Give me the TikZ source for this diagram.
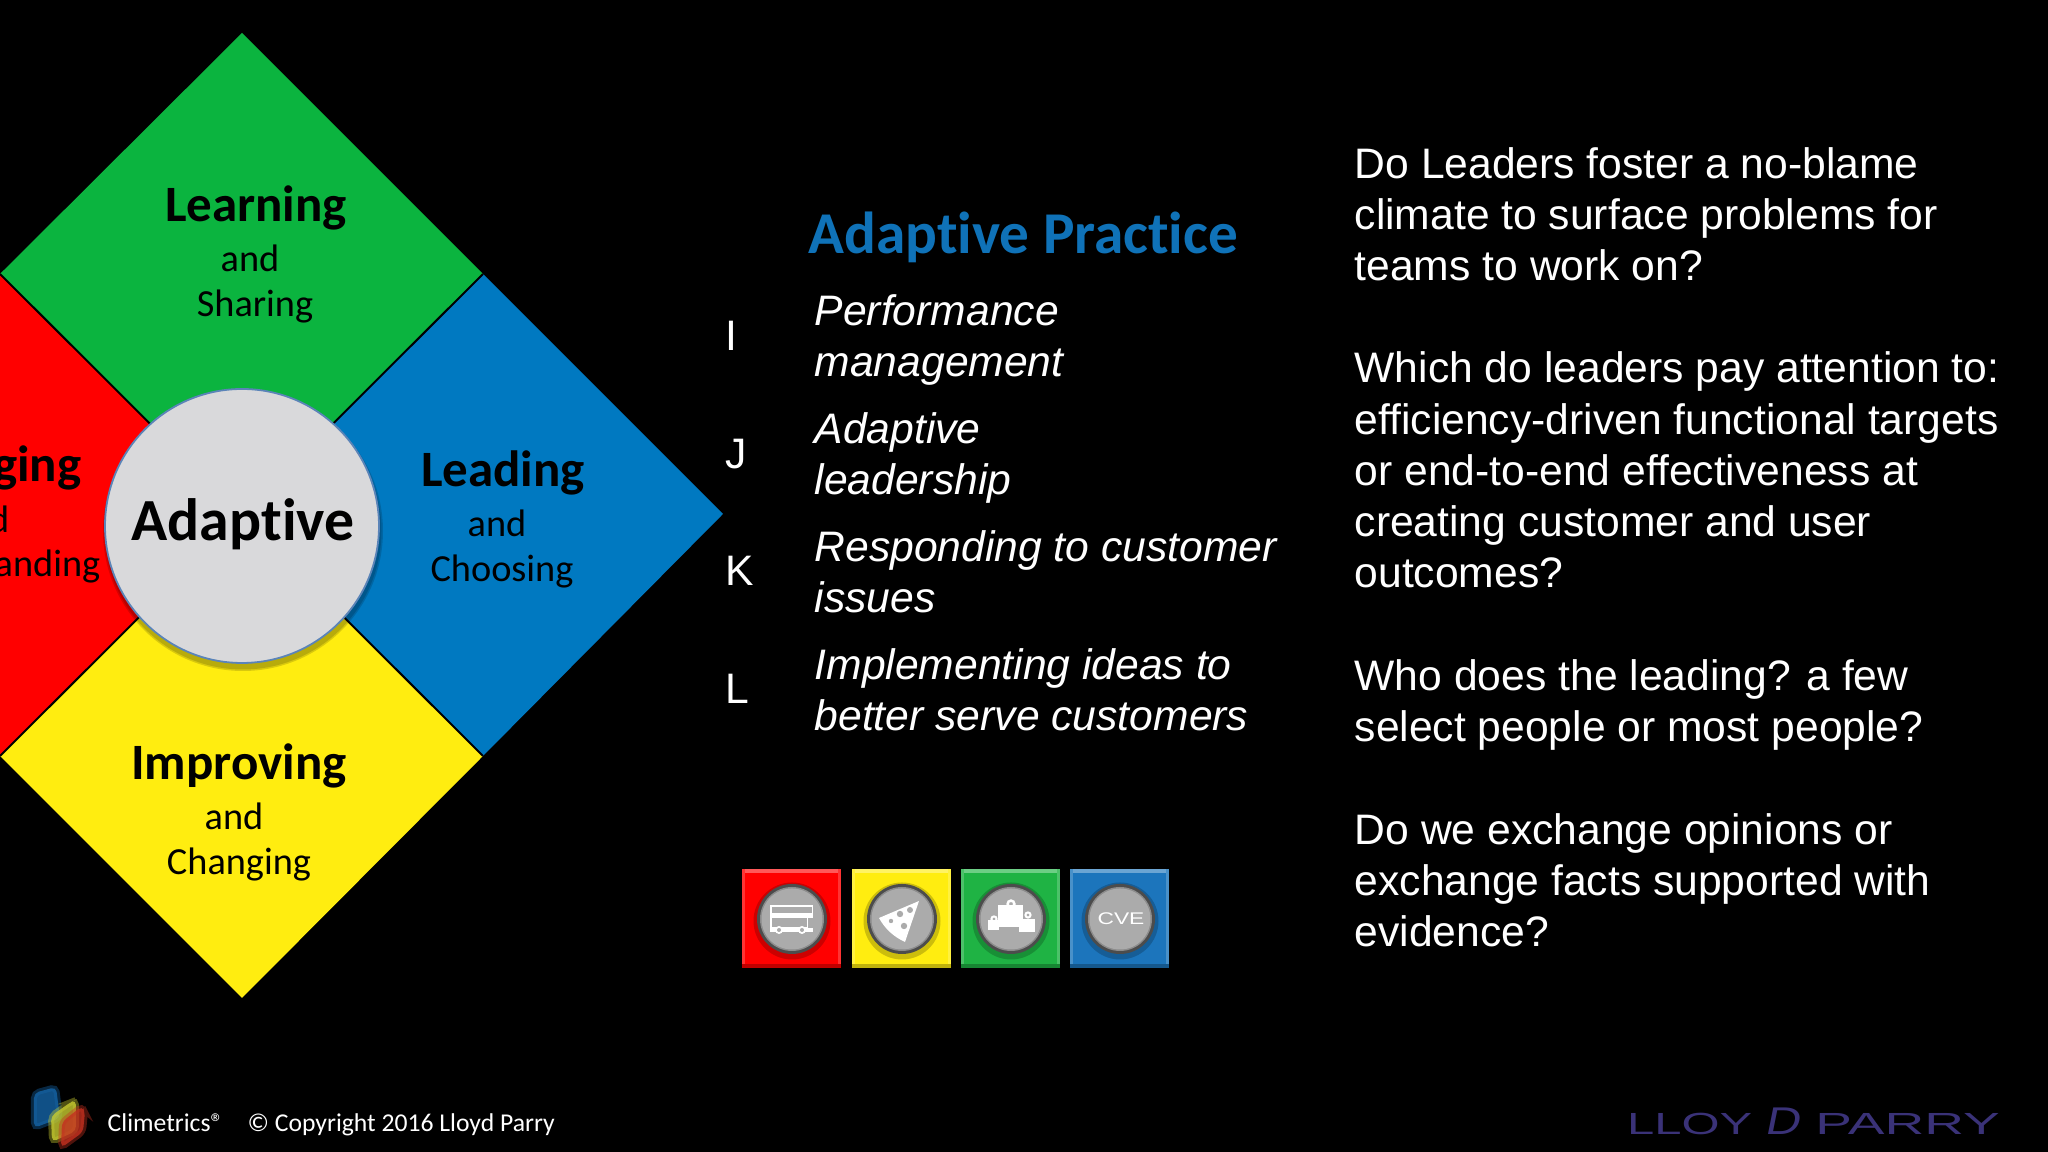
\documentclass[tikz,border=0pt]{standalone}
\usepackage{fontspec}
\setmainfont{Liberation Sans}
\newfontfamily\carlito[Ligatures=NoCommon]{Carlito}
\usetikzlibrary{calc}
\definecolor{leafgreen}{HTML}{0BB43F}
\definecolor{seablue}{HTML}{0079C1}
\definecolor{sunyellow}{HTML}{FFED10}
\definecolor{hubgrey}{HTML}{D9D9DB}
\definecolor{hubline}{HTML}{5B84B8}
\definecolor{headblue}{HTML}{0F72B8}
\definecolor{tilegreen}{HTML}{1FB344}
\definecolor{tileblue}{HTML}{1C75BC}
\definecolor{markpurple}{HTML}{3A3278}
\definecolor{cubeblue}{HTML}{1565A8}
\definecolor{cubeyellow}{HTML}{C8CC30}
\definecolor{cubered}{HTML}{C43020}
\tikzset{
	headtext/.style={font=\carlito\bfseries\fontsize{14.5}{16}\selectfont, text=black, inner sep=0pt},
	subtext/.style={font=\carlito\fontsize{10.9}{12}\selectfont, text=black, inner sep=0pt},
	bodytext/.style={font=\fontsize{12.13}{14.56}\selectfont, text=white, align=left, anchor=west, inner sep=0pt},
	slanttext/.style={bodytext, font=\itshape\fontsize{12.13}{14.56}\selectfont},
	marktext/.style={font=\fontsize{8.7}{10}\selectfont, text=markpurple, inner sep=0pt, anchor=base west},
	foottext/.style={font=\carlito\fontsize{7.3}{8}\selectfont, text=white, anchor=base west, inner sep=0pt},
	cubeside/.style={line width=0.6mm, draw=#1, draw opacity=0.4, fill=#1, fill opacity=0.8, rounded corners=0.5mm},
}
\begin{document}
\begin{tikzpicture}
	%%%%% BACKGROUND %%%%%
	\useasboundingbox (0, 0) rectangle (20.48, 11.52);
	\clip (0, 0) rectangle (20.48, 11.52);
	\fill[black] (0, 0) rectangle (20.48, 11.52);

	%%%%% DIAMOND %%%%%
	\fill[leafgreen] (2.42, 11.19) -- (4.83, 8.78) -- (2.42, 6.37) -- (0, 8.78) -- cycle;
	\fill[seablue] (4.83, 8.78) -- (7.23, 6.38) -- (4.83, 3.96) -- (2.42, 6.37) -- cycle;
	\fill[sunyellow] (2.42, 6.37) -- (4.83, 3.96) -- (2.42, 1.54) -- (0, 3.96) -- cycle;
	\fill[red] (0, 8.78) -- (2.42, 6.37) -- (0, 3.96) -- cycle;
	\draw[line width=0.2mm] (0, 8.78) -- (4.83, 3.96);
	\draw[line width=0.2mm] (0, 3.96) -- (4.83, 8.78);

	\foreach \r in {1.40, 1.385}
		\fill[black, opacity=0.15] (2.43, 6.21) circle (\r);
	\draw[fill=hubgrey, draw=hubline, line width=0.18mm] (2.42, 6.26) circle (1.37);
	\node[font=\carlito\bfseries\fontsize{17}{18}\selectfont, text=black, inner sep=0pt] (hub) at (2.43, 6.28) {Adaptive};

	\node[headtext] (learning) at (2.56, 9.44) {Learning};
	\node[subtext] (learningand) at (2.50, 8.94) {and};
	\node[subtext] (sharing) at (2.55, 8.45) {Sharing};

	\node[headtext] (leading) at (5.03, 6.79) {Leading};
	\node[subtext] (leadingand) at (4.97, 6.29) {and};
	\node[subtext] (choosing) at (5.02, 5.80) {Choosing};

	\node[headtext] (improving) at (2.39, 3.86) {Improving};
	\node[subtext] (improvingand) at (2.34, 3.36) {and};
	\node[subtext] (changing) at (2.39, 2.87) {Changing};

	\node[headtext, anchor=east] (ging) at (0.82, 6.84) {ging};
	\node[subtext, anchor=east] (gingand) at (0.10, 6.33) {d};
	\node[subtext, anchor=east] (anding) at (1.01, 5.85) {anding};

	%%%%% LISTS %%%%%
	\node[font=\carlito\bfseries\fontsize{16.86}{18}\selectfont, text=headblue, anchor=west, inner sep=0pt] (practice) at (8.08, 9.15) {Adaptive Practice};

	\node[bodytext] (letteri) at (7.25, 8.16) {I};
	\node[bodytext] (letterj) at (7.25, 6.98) {J};
	\node[bodytext] (letterk) at (7.25, 5.81) {K};
	\node[bodytext] (letterl) at (7.25, 4.63) {L};

	\node[slanttext] (performance) at (8.14, 8.12) {Performance\\management};
	\node[slanttext] (leadership) at (8.14, 6.94) {Adaptive\\leadership};
	\node[slanttext] (issues) at (8.14, 5.80) {Responding to customer\\issues};
	\node[slanttext] (ideas) at (8.14, 4.62) {Implementing ideas to\\better serve customers};

	\node[bodytext] (blame) at (13.54, 9.38) {Do Leaders foster a no-blame\\climate to surface problems for\\teams to work on?};
	\node[bodytext] (targets) at (13.54, 6.82) {Which do leaders pay attention to:\\efficiency-driven functional targets\\or end-to-end effectiveness at\\creating customer and user\\outcomes?};
	\node[bodytext] (few) at (13.54, 4.47) {Who does the leading? a few\\select people or most people?};
	\node[bodytext] (facts) at (13.54, 2.72) {Do we exchange opinions or\\exchange facts supported with\\evidence?};

	%%%%% TILES %%%%%
	\foreach \x/\tilecol in {7.42/red, 8.52/sunyellow, 9.61/tilegreen, 10.70/tileblue} {
		\fill[\tilecol] (\x, 1.84) rectangle ++(0.99, 0.99);
		\fill[\tilecol!65!white] (\x, 2.79) rectangle ++(0.99, 0.04);
		\fill[\tilecol!80!white] (\x, 1.84) rectangle ++(0.03, 0.99);
		\fill[\tilecol!80!white] (\x+0.96, 1.84) rectangle ++(0.03, 0.99);
		\fill[\tilecol!75!black] (\x, 1.84) rectangle ++(0.99, 0.04);
	}
	\foreach \x in {7.92, 9.02, 10.11, 11.20} {
		\fill[black, opacity=0.2] (\x, 2.31) circle (0.385);
		\fill[black!70] (\x, 2.33) circle (0.35);
		\fill[black!45] (\x, 2.33) circle (0.32);
		\fill[black!33] (\x, 2.33) circle (0.305);
	}

	% bus
	\begin{scope}[shift={(7.92, 2.33)}, x=0.01cm, y=-0.01cm]
		\fill[white] (-22, -14) rectangle (21, 13);
		\fill[black!33] (-20, -12) rectangle (20, -6);
		\fill[black!33] (-20, -1) rectangle (15, 8);
		\fill[black!33] (16, -1) rectangle (22, 9);
		\fill[white] (-13, 11) circle (4);
		\fill[white] (10, 11) circle (4);
		\fill[black!33] (-13, 11) circle (2);
		\fill[black!33] (10, 11) circle (2);
	\end{scope}

	% slice
	\begin{scope}[shift={(9.02, 2.33)}, x=0.01cm, y=-0.01cm]
		\fill[white] (17, -18) -- (3, 23) .. controls (-8, 18) and (-17, 10) .. (-23, -1) -- cycle;
		\fill[black!33] (-2, -5) circle (3.2);
		\fill[black!33] (8, -9) circle (3);
		\fill[black!33] (2, 7) circle (3.2);
		\fill[black!33] (-11, 2) circle (2.2);
	\end{scope}

	% bags
	\begin{scope}[shift={(10.11, 2.33)}, x=0.01cm, y=-0.01cm]
		\draw[white, line width=0.25mm] (0, -15) circle (3.4);
		\draw[white, line width=0.2mm] (-17, 0) circle (2.6);
		\draw[white, line width=0.2mm] (17, -4) circle (2.6);
		\fill[white] (-13, -14) rectangle (12, 8);
		\fill[white] (-23, 1) rectangle (-12, 11);
		\fill[white] (8, 0) rectangle (24, 13);
	\end{scope}

	\node[font=\fontsize{4.8}{6}\selectfont, text=white, xscale=1.35, inner sep=0pt] (cve) at (11.21, 2.33) {CVE};

	%%%%% FOOTER %%%%%
	\draw[cubeside=cubeblue] (0.34, 0.24) -- (0.34, 0.59) -- (0.56, 0.65) -- (0.60, 0.34) -- cycle;
	\draw[cubeside=cubeyellow] (0.52, 0.10) -- (0.51, 0.36) -- (0.71, 0.50) -- (0.76, 0.52) -- (0.76, 0.21) -- cycle;
	\draw[cubeside=cubered] (0.61, 0.04) -- (0.62, 0.30) -- (0.82, 0.46) -- (0.85, 0.40) -- (0.83, 0.20) -- cycle;

	\node[foottext] (climetrics) at (1.07, 0.20) {Climetrics®};
	\node[foottext] (copyright) at (2.47, 0.20) {© Copyright 2016 Lloyd Parry};

	\node[marktext, xscale=1.6] (lloy) at (16.26, 0.17) {LLOY};
	\node[marktext, xslant=0.2, xscale=1.25, font=\fontsize{11}{12}\selectfont] (markd) at (17.64, 0.17) {D};
	\node[marktext, xscale=1.8] (parry) at (18.14, 0.17) {PARRY};
\end{tikzpicture}
\end{document}
